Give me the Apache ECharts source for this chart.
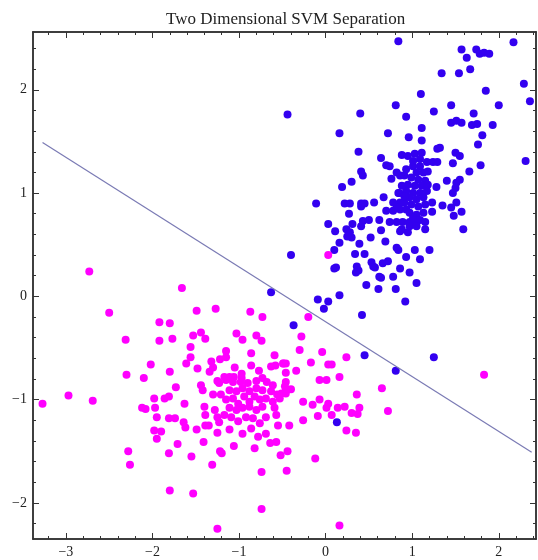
<!DOCTYPE html>
<html>
<head>
<meta charset="utf-8">
<script src="https://cdn.jsdelivr.net/npm/echarts@6/dist/echarts.min.js"></script>
<style>
html, body { margin: 0; padding: 0; background: #fff; }
#main { width: 538px; height: 560px; }
</style>
</head>
<body>
<div id="main"></div>
<script>
// class +1 (blue), upper right cluster
var bluePoints = [
    [0.84, 2.47], [2.17, 2.46], [1.57, 2.39], [1.74, 2.39], [1.78, 2.35], [1.83, 2.36], [1.89, 2.35],
    [1.63, 2.31], [1.67, 2.20], [1.34, 2.16], [1.54, 2.16], [2.29, 2.06], [1.85, 1.99], [1.10, 1.96],
    [2.36, 1.89], [2.00, 1.85], [0.81, 1.85], [1.45, 1.85], [-0.44, 1.76], [0.40, 1.77], [0.93, 1.74],
    [1.25, 1.79], [1.71, 1.77], [1.45, 1.68], [1.51, 1.70], [1.57, 1.68], [1.69, 1.66], [1.75, 1.67],
    [1.93, 1.66], [1.11, 1.63], [0.16, 1.58], [0.72, 1.58], [0.96, 1.54], [1.11, 1.51], [1.81, 1.56],
    [1.76, 1.47], [0.38, 1.40], [1.29, 1.43], [1.32, 1.44], [0.64, 1.34], [1.50, 1.39], [1.55, 1.36],
    [2.31, 1.31], [1.24, 1.30], [1.29, 1.30], [1.47, 1.29], [1.79, 1.27], [1.66, 1.21], [0.70, 1.27],
    [0.74, 1.26], [0.41, 1.21], [0.43, 1.17], [0.82, 1.20], [0.76, 1.14], [0.91, 1.17], [1.18, 1.21],
    [1.55, 1.13], [1.51, 1.10], [1.40, 1.12], [0.30, 1.11], [0.19, 1.06], [1.28, 1.06], [1.50, 1.05],
    [1.47, 1.00], [0.85, 1.00], [-0.11, 0.90], [0.22, 0.90], [0.28, 0.90], [0.41, 0.90], [0.45, 0.90],
    [0.41, 0.87], [0.56, 0.91], [0.67, 0.96], [1.23, 0.91], [1.35, 0.88], [1.51, 0.91], [1.45, 0.86],
    [0.27, 0.80], [0.70, 0.83], [0.78, 0.83], [0.86, 0.84], [0.93, 0.84], [1.57, 0.82], [1.48, 0.78],
    [1.23, 0.82], [0.03, 0.70], [0.31, 0.70], [0.41, 0.68], [0.50, 0.74], [0.43, 0.73], [0.62, 0.74],
    [0.74, 0.72], [0.82, 0.72], [0.89, 0.72], [0.97, 0.72], [1.05, 0.72], [1.15, 0.72], [1.15, 0.65],
    [1.59, 0.65], [0.11, 0.63], [0.24, 0.65], [0.28, 0.62], [0.30, 0.57], [0.25, 0.58], [0.64, 0.64],
    [0.86, 0.63], [0.88, 0.65], [0.95, 0.62], [0.16, 0.52], [0.39, 0.51], [0.52, 0.57], [0.69, 0.53],
    [0.10, 0.45], [0.34, 0.41], [0.45, 0.41], [0.82, 0.47], [0.84, 0.45], [1.03, 0.45], [1.20, 0.45],
    [-0.40, 0.40], [0.93, 0.38], [1.09, 0.36], [0.10, 0.27], [0.36, 0.29], [0.38, 0.25], [0.35, 0.23],
    [0.53, 0.33], [0.57, 0.28], [0.66, 0.32], [0.72, 0.34], [0.86, 0.27], [0.97, 0.23], [0.62, 0.19],
    [0.78, 0.19], [0.12, 0.28], [0.47, 0.11], [0.61, 0.07], [0.81, 0.07], [0.92, -0.05], [1.05, 0.13],
    [0.64, 0.18], [0.55, 0.29],
    [-0.63, 0.04], [-0.09, -0.03], [0.03, -0.05], [-0.02, -0.12], [0.16, 0.01], [0.42, -0.18],
    [-0.37, -0.28], [0.45, -0.57], [0.81, -0.72], [1.25, -0.59], [0.13, -1.22],
    // dense core
    [0.88, 1.37], [0.95, 1.36], [1.03, 1.38], [1.11, 1.39], [1.09, 1.33], [1.01, 1.26], [1.09, 1.26],
    [1.17, 1.30], [1.05, 1.20], [1.13, 1.20], [0.99, 1.15], [1.07, 1.13], [1.15, 1.12], [0.95, 1.08],
    [1.03, 1.07], [1.11, 1.07], [1.18, 1.08], [0.93, 1.02], [1.01, 1.00], [1.09, 1.00], [1.17, 1.02],
    [0.97, 0.96], [1.05, 0.94], [1.13, 0.96], [0.91, 0.91], [0.99, 0.89], [1.07, 0.87], [1.15, 0.89],
    [0.86, 0.91], [0.82, 0.86], [0.97, 0.81], [1.05, 0.79], [1.13, 0.81], [1.01, 0.76], [1.09, 0.74],
    [0.97, 0.68], [1.05, 0.68], [0.84, 1.00], [0.88, 1.07], [0.91, 0.97], [0.78, 0.91], [1.01, 1.31],
    [0.93, 1.23], [0.86, 1.17]
];

// class -1 (magenta), lower left cluster
var magentaPoints = [
    [-2.73, 0.24], [-1.66, 0.08], [-2.50, -0.16], [-1.49, -0.14], [-1.27, -0.12], [-0.87, -0.15],
    [-0.73, -0.20], [-1.92, -0.25], [-1.80, -0.26], [-2.31, -0.42], [-1.92, -0.43], [-1.77, -0.41],
    [-1.53, -0.38], [-1.44, -0.35], [-1.39, -0.41], [-1.03, -0.36], [-0.96, -0.42], [-0.80, -0.38],
    [-0.74, -0.43], [-1.56, -0.49], [-1.15, -0.53], [-0.86, -0.55], [-0.59, -0.57], [-1.56, -0.59],
    [-1.61, -0.65], [-1.48, -0.70], [-1.32, -0.63], [-1.34, -0.73], [-1.30, -0.69], [-1.22, -0.61],
    [-1.15, -0.59], [-1.05, -0.69], [-0.86, -0.67], [-0.77, -0.72], [-0.63, -0.68], [-0.58, -0.67],
    [-0.49, -0.65], [-0.46, -0.65], [-0.46, -0.74], [-2.02, -0.66], [-2.30, -0.76], [-2.10, -0.79],
    [-1.80, -0.73], [-1.73, -0.88], [-1.44, -0.86], [-1.42, -0.91], [-1.23, -0.84], [-1.25, -0.82],
    [-1.17, -0.78], [-1.11, -0.78], [-1.06, -0.78], [-0.97, -0.75], [-0.97, -0.79], [-0.46, -0.83],
    [-0.46, -0.91], [-0.56, -0.95], [-0.46, -0.94], [-3.27, -1.04], [-2.97, -0.96], [-2.69, -1.01],
    [-2.12, -1.08], [-2.08, -1.09], [-1.98, -0.99], [-1.86, -0.99], [-1.81, -0.97], [-1.97, -1.08],
    [-1.63, -1.04], [-1.95, -1.17], [-1.81, -1.18], [-1.74, -1.18], [-1.64, -1.22], [-1.62, -1.27],
    [-1.49, -1.29], [-1.98, -1.30], [-1.90, -1.31], [-1.95, -1.38], [-1.39, -1.25], [-1.35, -1.25],
    [-1.40, -1.07], [-1.30, -0.95], [-1.21, -0.95], [-1.28, -1.10], [-1.25, -1.17], [-1.23, -1.22],
    [-1.39, -1.15], [-1.25, -1.32], [-1.41, -1.41], [-2.28, -1.50], [-2.26, -1.63], [-1.71, -1.43],
    [-1.81, -1.52], [-1.55, -1.55], [-1.22, -1.50], [-1.20, -1.52], [-1.31, -1.63], [-1.06, -1.45],
    [-0.82, -1.47], [-0.64, -1.42], [-0.57, -1.41], [-0.52, -1.54], [-0.44, -1.50], [-0.74, -1.70],
    [-0.45, -1.69], [-1.80, -1.88], [-1.53, -1.91], [-0.74, -2.06], [-1.25, -2.25], [0.16, -2.22],
    [-0.12, -1.57],
    // dense core
    [-1.15, -0.81], [-1.07, -0.83], [-0.98, -0.83], [-0.90, -0.84], [-0.80, -0.82], [-0.73, -0.79],
    [-0.68, -0.83], [-0.61, -0.86], [-1.11, -0.91], [-1.03, -0.92], [-0.96, -0.89], [-0.88, -0.92],
    [-0.80, -0.89], [-0.73, -0.91], [-0.63, -0.92], [-1.15, -1.00], [-1.07, -0.99], [-1.01, -1.04],
    [-0.94, -0.97], [-0.88, -1.02], [-0.82, -0.97], [-0.76, -1.00], [-0.69, -0.99], [-0.61, -1.02],
    [-0.53, -0.99], [-1.11, -1.08], [-1.03, -1.10], [-0.96, -1.08], [-0.88, -1.07], [-0.80, -1.10],
    [-0.73, -1.07], [-0.59, -1.08], [-1.17, -1.15], [-1.09, -1.17], [-1.01, -1.21], [-0.92, -1.17],
    [-0.84, -1.18], [-0.76, -1.23], [-0.69, -1.17], [-0.57, -1.15], [-0.55, -1.25], [-1.11, -1.29],
    [-0.96, -1.33], [-0.86, -1.28], [-0.78, -1.36], [-0.69, -1.33],
    // right part of the cluster
    [0.03, 0.40], [-0.20, -0.20], [-0.28, -0.39], [-0.30, -0.52], [-0.04, -0.54], [0.24, -0.59],
    [-0.17, -0.64], [0.03, -0.66], [0.07, -0.66], [-0.49, -0.65], [-0.34, -0.72], [0.16, -0.78],
    [-0.07, -0.81], [0.01, -0.81], [0.65, -0.89], [0.36, -0.95], [-0.40, -0.90], [-0.47, -0.87],
    [-0.51, -0.94], [-0.26, -1.02], [-0.15, -1.05], [-0.07, -1.00], [0.03, -1.04], [0.01, -1.08],
    [0.14, -1.08], [0.22, -1.07], [0.39, -1.08], [0.37, -1.14], [0.30, -1.13], [0.72, -1.11],
    [-0.09, -1.16], [0.07, -1.15], [0.24, -1.30], [0.35, -1.32], [-0.26, -1.20], [-0.42, -1.25],
    [1.83, -0.76]
];

// separating line end points
var sepLine = [[-3.27, 1.49], [2.38, -1.51]];

var xMajor = [-3, -2, -1, 0, 1, 2];
var yMajor = [-2, -1, 0, 1, 2];
var xMin = -3.38, xMax = 2.43;
var yMin = -2.35, yMax = 2.56;

function minorTicks(lo, hi) {
    var out = [];
    for (var i = Math.ceil(lo * 5); i <= Math.floor(hi * 5); i++) {
        if (i % 5 !== 0) out.push(i / 5);
    }
    return out;
}
var xMinor = minorTicks(xMin, xMax);
var yMinor = minorTicks(yMin, yMax);

function fmt(v) {
    return v < 0 ? '\u2212' + Math.abs(v) : String(v);
}

var frameColor = '#333';
var labelStyle = { color: '#222', fontFamily: 'Liberation Serif', fontSize: 14, formatter: fmt };

function makeAxis(pos, lo, hi, ticks, len, labels) {
    return {
        type: 'value',
        position: pos,
        min: lo,
        max: hi,
        splitLine: { show: false },
        axisLine: { show: true, onZero: false, lineStyle: { color: frameColor, width: 1.5 } },
        axisTick: { show: true, inside: true, length: len, customValues: ticks, lineStyle: { color: frameColor, width: 1 } },
        axisLabel: labels ? Object.assign({ show: true, customValues: ticks, margin: 6 }, labelStyle) : { show: false }
    };
}

var myChart = echarts.init(document.getElementById('main'));

option = {
    animation: false,
    title: {
        text: 'Two Dimensional SVM Separation',
        left: 161,
        top: 6,
        textStyle: {
            fontFamily: 'Liberation Serif',
            fontWeight: 'normal',
            fontSize: 17,
            color: '#222'
        }
    },
    grid: { left: 33, right: 2, top: 32, bottom: 21 },
    xAxis: [
        makeAxis('bottom', xMin, xMax, xMajor, 6, true),
        makeAxis('bottom', xMin, xMax, xMinor, 3, false),
        makeAxis('top', xMin, xMax, xMajor, 6, false),
        makeAxis('top', xMin, xMax, xMinor, 3, false)
    ],
    yAxis: [
        makeAxis('left', yMin, yMax, yMajor, 6, true),
        makeAxis('left', yMin, yMax, yMinor, 3, false),
        makeAxis('right', yMin, yMax, yMajor, 6, false),
        makeAxis('right', yMin, yMax, yMinor, 3, false)
    ],
    series: [
        {
            type: 'scatter',
            data: bluePoints,
            symbolSize: 8,
            itemStyle: { color: '#3300f0', opacity: 1 }
        },
        {
            type: 'scatter',
            data: magentaPoints,
            symbolSize: 8,
            itemStyle: { color: '#ff00ff', opacity: 1 }
        },
        {
            type: 'line',
            data: sepLine,
            symbol: 'none',
            lineStyle: { color: '#7a7ab4', width: 1.2 }
        }
    ]
};

myChart.setOption(option);
window.addEventListener("resize", function () {
    myChart.resize();
});
</script>
</body>
</html>
